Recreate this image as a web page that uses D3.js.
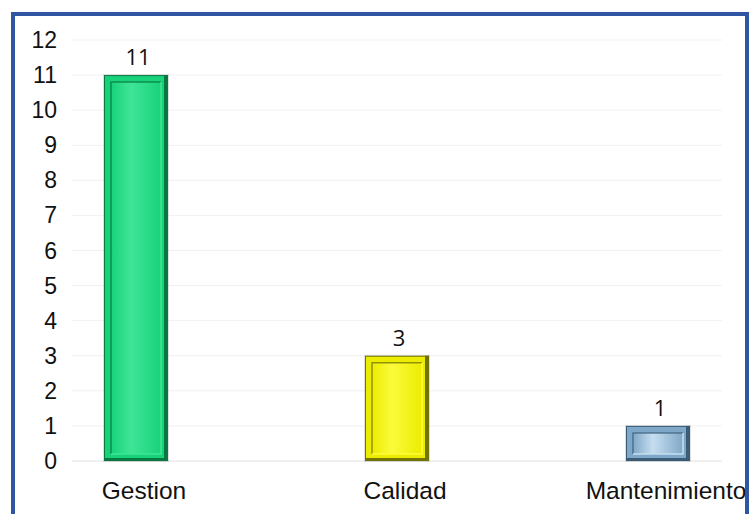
<!DOCTYPE html>
<html>
<head>
<meta charset="utf-8">
<script src="https://cdn.jsdelivr.net/npm/d3@7"></script>
<style>
  html, body { margin: 0; padding: 0; background: #fff; }
  svg { display: block; }
</style>
</head>
<body>
<svg id="chart" width="756" height="514"></svg>
<script>
// Data
const categories = ["Gestion", "Calidad", "Mantenimiento"];
const values = [11, 3, 1];
const yTicks = [0, 1, 2, 3, 4, 5, 6, 7, 8, 9, 10, 11, 12];

// Bar palettes: edge (shadow), face, highlight
const palettes = [
  { edge: "#07783f", face: "#18d27a", light: "#3fe597" },
  { edge: "#737305", face: "#ecec00", light: "#fbfb3c" },
  { edge: "#3a5c77", face: "#7fa8c8", light: "#c6def0" }
];

const svg = d3.select("#chart");
const plot = { left: 72, right: 722, top: 40, bottom: 461 };

const y = d3.scaleLinear().domain([0, 12]).range([plot.bottom, plot.top]);
const x = d3.scalePoint().domain(categories).range([136, 658]);
const barW = 64;

const defs = svg.append("defs");
palettes.forEach((p, i) => {
  const g = defs.append("linearGradient").attr("id", "face" + i)
    .attr("x1", 0).attr("x2", 1).attr("y1", 0).attr("y2", 0);
  g.append("stop").attr("offset", "0%").attr("stop-color", p.face);
  g.append("stop").attr("offset", "40%").attr("stop-color", p.light);
  g.append("stop").attr("offset", "100%").attr("stop-color", p.face);
});

// Gridlines
svg.append("g").selectAll("line").data(yTicks).join("line")
  .attr("x1", plot.left).attr("x2", plot.right)
  .attr("y1", d => y(d)).attr("y2", d => y(d))
  .attr("stroke", d => d === 0 ? "#e2e2e2" : "#f1f1f1")
  .attr("stroke-width", 1);

// Y tick labels
svg.append("g").selectAll("text").data(yTicks).join("text")
  .attr("x", 57).attr("y", d => y(d) + 8)
  .attr("text-anchor", "end")
  .attr("font-family", "Liberation Sans, Arial, sans-serif")
  .attr("font-size", 23).attr("fill", "#111")
  .text(d => d);

// Bars with bevelled look
const bars = svg.append("g").selectAll("g").data(values).join("g");
bars.each(function (v, i) {
  const g = d3.select(this);
  const p = palettes[i];
  const cx = x(categories[i]);
  const x0 = cx - barW / 2, y0 = y(v), h = y(0) - y(v);
  // soft shadow
  g.append("rect").attr("x", x0 - 1).attr("y", y0 - 1).attr("width", barW + 2).attr("height", h + 2)
    .attr("fill", "#000").attr("opacity", 0.12);
  // outer body
  g.append("rect").attr("x", x0).attr("y", y0).attr("width", barW).attr("height", h)
    .attr("fill", p.edge);
  // bevel
  g.append("rect").attr("x", x0 + 1).attr("y", y0 + 1).attr("width", barW - 5).attr("height", h - 4)
    .attr("fill", p.face);
  // inner face
  const inset = 7;
  g.append("rect").attr("x", x0 + inset).attr("y", y0 + inset)
    .attr("width", barW - inset * 2).attr("height", Math.max(0, h - inset * 2))
    .attr("fill", `url(#face${i})`);
  // inner frame lines: dark top/left, light bottom/right
  g.append("path")
    .attr("d", `M${x0 + inset},${y0 + h - inset} V${y0 + inset} H${x0 + barW - inset}`)
    .attr("fill", "none").attr("stroke", p.edge).attr("stroke-width", 1.5).attr("opacity", 0.75);
  g.append("path")
    .attr("d", `M${x0 + barW - inset},${y0 + inset} V${y0 + h - inset} H${x0 + inset}`)
    .attr("fill", "none").attr("stroke", p.light).attr("stroke-width", 1.5);
  // right dark edge
  g.append("rect").attr("x", x0 + barW - 4).attr("y", y0).attr("width", 4).attr("height", h)
    .attr("fill", p.edge);
});

// Value labels
svg.append("g").selectAll("text").data(values).join("text")
  .attr("x", (d, i) => x(categories[i]) + 2)
  .attr("y", d => y(d) - 10)
  .attr("text-anchor", "middle")
  .attr("font-family", "Open Sans, sans-serif")
  .attr("font-size", 22).attr("fill", "#111")
  .text(d => d);

// Category labels
svg.append("g").selectAll("text").data(categories).join("text")
  .attr("x", d => x(d) + 8)
  .attr("y", 499)
  .attr("text-anchor", "middle")
  .attr("font-family", "Liberation Sans, Arial, sans-serif")
  .attr("font-size", 24.5).attr("fill", "#111")
  .text(d => d);

// Frame
svg.append("rect").attr("x", 13).attr("y", 14).attr("width", 734).attr("height", 520)
  .attr("fill", "none").attr("stroke", "#2f56a3").attr("stroke-width", 4);
</script>
</body>
</html>
